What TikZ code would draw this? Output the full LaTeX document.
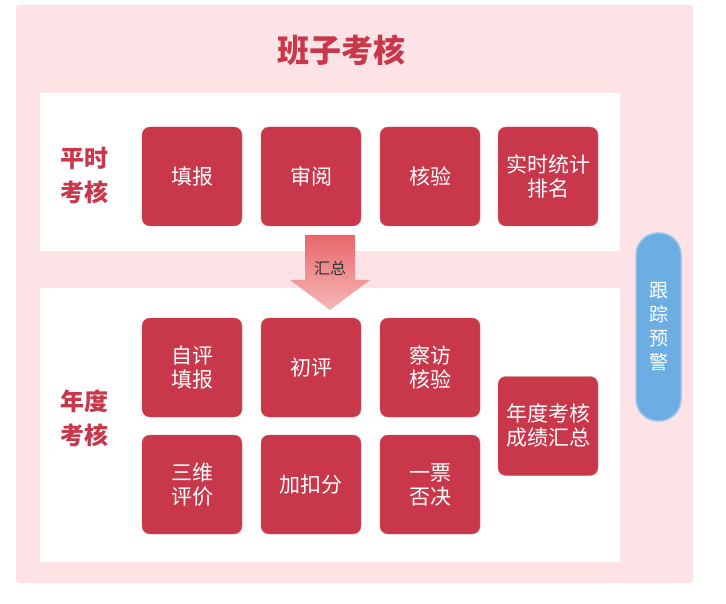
\documentclass[tikz,border=0pt]{standalone}
\usepackage{fontspec}
\newfontfamily\cjk{Noto Sans CJK SC}
\definecolor{bgp}{HTML}{FDE3E5}
\definecolor{rbox}{HTML}{C9374A}
\definecolor{bl}{HTML}{6CAEE3}
\definecolor{ar1}{HTML}{E8676B}
\definecolor{ar2}{HTML}{F6B8B8}
\begin{document}
\begin{tikzpicture}[x=1pt,y=-1pt,
  rb/.style={fill=rbox,draw=rbox!80!white,rounded corners=8pt,minimum width=100pt,minimum height=99pt,text=white,font=\cjk\fontsize{21}{24}\selectfont,align=center,inner sep=0pt},
  lab/.style={text=rbox,font=\cjk\bfseries\fontsize{24}{34}\selectfont,align=center}]
\useasboundingbox (0,0) rectangle (726,604);
\fill[bgp,rounded corners=3pt] (16,5) rectangle (693,583);
\node[text=rbox,font=\cjk\bfseries\fontsize{32}{36}\selectfont] (title) at (341,50) {班子考核};
\fill[white] (40,93) rectangle (620,251);
\fill[white] (40,288) rectangle (620,562);
\node[lab] (l1) at (84,175) {平时\\考核};
\node[lab] (l2) at (84,418) {年度\\考核};
\node[rb] (a1) at (192,176.5) {填报};
\node[rb] (a2) at (311,176.5) {审阅};
\node[rb] (a3) at (430,176.5) {核验};
\node[rb] (a4) at (548,176.5) {实时统计\\排名};
\node[rb] (b1) at (192,367.5) {自评\\填报};
\node[rb] (b2) at (311,367.5) {初评};
\node[rb] (b3) at (430,367.5) {察访\\核验};
\node[rb] (c1) at (192,484.5) {三维\\评价};
\node[rb] (c2) at (311,484.5) {加扣分};
\node[rb] (c3) at (430,484.5) {一票\\否决};
\node[rb] (d) at (548,426) {年度考核\\成绩汇总};
\shade[top color=ar1,bottom color=ar2] (305,235) -- (355,235) -- (355,280) -- (370,280) -- (330,310) -- (290,280) -- (305,280) -- cycle;
\node[font=\cjk\fontsize{16}{18}\selectfont,text=black!80] (hz) at (330,268) {汇总};
\node[fill=bl,draw=bl!70!white,line width=1.5pt,rounded corners=22pt,minimum width=45pt,minimum height=188pt,text=white,font=\cjk\fontsize{19}{24}\selectfont,align=center] (gz) at (658.5,327) {跟\\踪\\预\\警};
\end{tikzpicture}
\end{document}
